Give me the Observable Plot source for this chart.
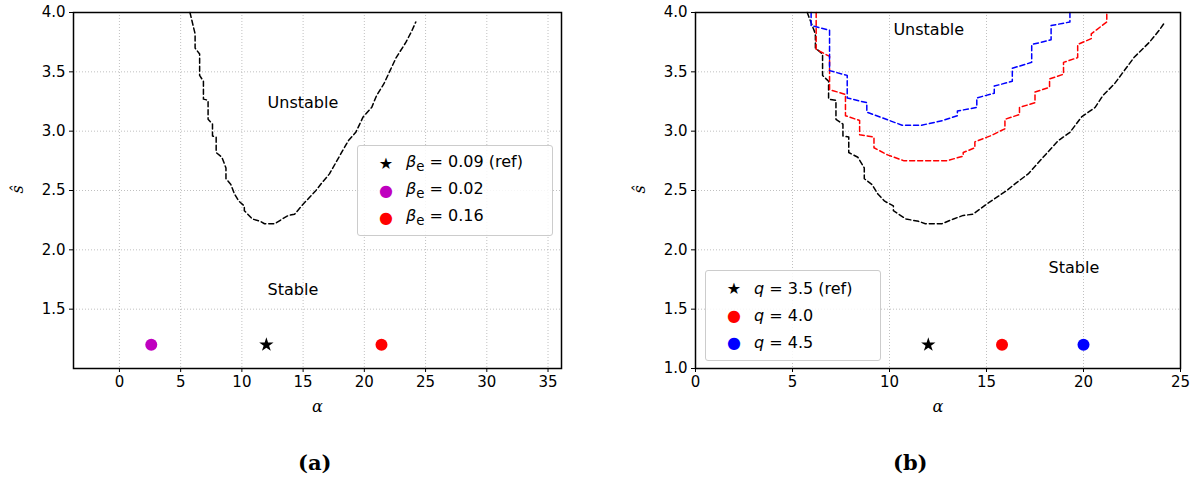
<!DOCTYPE html>
<html><head><meta charset="utf-8">
<script src="https://cdn.jsdelivr.net/npm/d3@7"></script>
<script src="https://cdn.jsdelivr.net/npm/@observablehq/plot@0.6"></script>
<style>
body{margin:0;background:#fff;font-family:"DejaVu Sans",sans-serif;}
#wrap{position:relative;width:1204px;height:485px;}
.panel{position:absolute;top:0;}
.legend{position:absolute;background:rgba(255,255,255,0.85);border:1px solid #ccc;border-radius:3px;font-size:16px;padding:4px 8px;}
.legend div{display:flex;align-items:center;height:27px;}
.legend .sym{width:40px;text-align:center;font-size:16px;}
.cap{position:absolute;top:450px;font-family:"DejaVu Serif",serif;font-weight:bold;font-size:21px;}
.lab{position:absolute;font-family:"DejaVu Serif",serif;font-style:italic;font-size:16px;}
</style></head><body>
<div id="wrap"></div>
<script>
// Data
const blackAlpha=[5.76,6.18,6.18,6.55,6.55,6.86,6.86,7.24,7.24,7.6,7.6,7.9,7.9,8.37,8.7,8.7,9.1,9.4,9.75,10.2,10.2,10.85,11.5,11.85,12.7,13.3,13.8,14.3,15.05,16.05,16.5,17.15,17.7,18.25,18.7,19.3,19.9,20.6,21.0,21.6,22.1,22.6,23.4,23.9,24.2];
const blackS=[4.0,3.82,3.70,3.65,3.47,3.42,3.27,3.26,3.10,3.06,2.96,2.95,2.82,2.78,2.69,2.60,2.55,2.47,2.41,2.37,2.33,2.26,2.24,2.22,2.22,2.26,2.29,2.30,2.39,2.50,2.56,2.64,2.74,2.84,2.92,2.99,3.12,3.20,3.30,3.40,3.51,3.62,3.75,3.85,3.92];
const redAlpha=[6.22,6.22,6.91,6.91,7.73,7.73,8.46,8.46,9.2,9.2,9.9,10.75,12.95,13.8,13.8,14.4,14.4,15.2,15.95,15.95,16.7,16.7,17.5,17.5,18.25,18.25,18.97,18.97,19.7,19.7,20.4,20.4,21.2,21.2];
const redS=[4.0,3.69,3.63,3.35,3.31,3.13,3.09,2.97,2.95,2.86,2.80,2.75,2.75,2.79,2.82,2.86,2.91,2.96,3.02,3.10,3.14,3.20,3.24,3.33,3.37,3.44,3.48,3.58,3.62,3.73,3.78,3.82,3.92,4.0];
const blueAlpha=[5.96,5.96,6.91,6.91,7.82,7.82,8.83,8.83,9.83,10.65,11.65,12.75,13.5,13.5,14.5,14.5,15.4,15.4,16.33,16.33,17.33,17.33,18.33,18.33,19.3,19.3];
const blueS=[4.0,3.89,3.85,3.51,3.47,3.28,3.24,3.16,3.10,3.05,3.05,3.09,3.13,3.17,3.20,3.28,3.32,3.38,3.42,3.53,3.58,3.73,3.77,3.89,3.92,4.0];
const ptsA_alpha=[12,2.6,21.4], ptsA_s=[1.2,1.2,1.2], ptsA_col=["black","#bf00bf","red"];
const ptsA_lab=["β<sub>e</sub> = 0.09 (ref)","β<sub>e</sub> = 0.02","β<sub>e</sub> = 0.16"];
const ptsB_alpha=[12,15.8,20], ptsB_s=[1.2,1.2,1.2], ptsB_col=["black","red","blue"];
const ptsB_lab=["q = 3.5 (ref)","q = 4.0","q = 4.5"];

const zip=(a,b)=>a.map((x,i)=>({x,y:b[i]}));
const black=zip(blackAlpha,blackS), red=zip(redAlpha,redS), blue=zip(blueAlpha,blueS);
const wrap=document.getElementById("wrap");

function panel(opts){
  const pts=opts.px.map((x,i)=>({x,y:opts.ps[i],c:opts.pc[i]}));
  const p=Plot.plot({
    width:opts.width,height:420,marginLeft:opts.ml,marginRight:opts.mr,marginTop:12,marginBottom:52,
    style:{fontFamily:"DejaVu Sans",fontSize:"15px",color:"black",overflow:"visible"},
    x:{domain:opts.xd,label:null},
    y:{domain:[1,4],label:null},
    marks:[
      Plot.gridX(opts.xt,{stroke:"#b0b0b0",strokeOpacity:1,strokeDasharray:"1,2",strokeWidth:0.8}),
      Plot.gridY(opts.yt,{stroke:"#b0b0b0",strokeOpacity:1,strokeDasharray:"1,2",strokeWidth:0.8}),
      Plot.axisX(opts.xt,{tickSize:4,fontSize:15,tickPadding:4,tickFormat:d=>d}),
      Plot.axisY(opts.yt,{tickSize:4,fontSize:15,tickPadding:4,tickFormat:d=>d.toFixed(1)}),
      ...opts.curves.map(([d,c])=>Plot.line(d,{x:"x",y:"y",stroke:c,strokeWidth:1.5,strokeDasharray:"5,3"})),
      Plot.dot(pts.filter(d=>d.c!=="black"),{x:"x",y:"y",fill:"c",r:6}),
      Plot.dot(pts.filter(d=>d.c==="black"),{x:"x",y:"y",fill:"black",symbol:"star",r:4.5}),
      Plot.text(opts.texts,{x:"x",y:"y",text:"t",textAnchor:"start",fontSize:16}),
      Plot.frame({stroke:"black",strokeWidth:1.5})
    ]
  });
  const d=document.createElement("div");d.className="panel";d.style.left=opts.left+"px";d.appendChild(p);wrap.appendChild(d);
  const lg=document.createElement("div");lg.className="legend";
  Object.assign(lg.style,opts.lgpos);
  opts.pc.forEach((c,i)=>{
    const r=document.createElement("div");
    r.innerHTML=`<span class="sym" style="color:${c}">${c==="black"?"★":"●"}</span><span>${opts.labs[i].replace(/^(β|q)/,'<i>$1</i>')}</span>`;
    lg.appendChild(r);
  });
  wrap.appendChild(lg);
  const xl=document.createElement("div");xl.className="lab";xl.textContent="α";
  Object.assign(xl.style,{left:(opts.left+opts.ml+(opts.width-opts.ml-opts.mr)/2-5)+"px",top:"397px"});wrap.appendChild(xl);
  const yl=document.createElement("div");yl.className="lab";yl.textContent="ŝ";
  Object.assign(yl.style,{left:(opts.left+opts.ml-60)+"px",top:"180px",transform:"rotate(-90deg)"});wrap.appendChild(yl);
}
panel({left:0,width:580,ml:73,mr:19,xd:[-3.75,36.1],xt:[0,5,10,15,20,25,30,35],yt:[1.5,2,2.5,3,3.5,4],
  curves:[[black,"black"]],px:ptsA_alpha,ps:ptsA_s,pc:ptsA_col,labs:ptsA_lab,
  texts:[{x:12.1,y:3.24,t:"Unstable"},{x:12.1,y:1.66,t:"Stable"}],
  lgpos:{left:"357px",top:"145px",width:"178px"}});
panel({left:600,width:604,ml:95,mr:24,xd:[0,25],xt:[0,5,10,15,20,25],yt:[1,1.5,2,2.5,3,3.5,4],
  curves:[[black,"black"],[red,"red"],[blue,"blue"]],px:ptsB_alpha,ps:ptsB_s,pc:ptsB_col,labs:ptsB_lab,
  texts:[{x:10.2,y:3.85,t:"Unstable"},{x:18.2,y:1.85,t:"Stable"}],
  lgpos:{left:"705px",top:"270px",width:"158px"}});
const ca=document.createElement("div");ca.className="cap";ca.style.left="298px";ca.textContent="(a)";wrap.appendChild(ca);
const cb=document.createElement("div");cb.className="cap";cb.style.left="893px";cb.textContent="(b)";wrap.appendChild(cb);
</script></body></html>
